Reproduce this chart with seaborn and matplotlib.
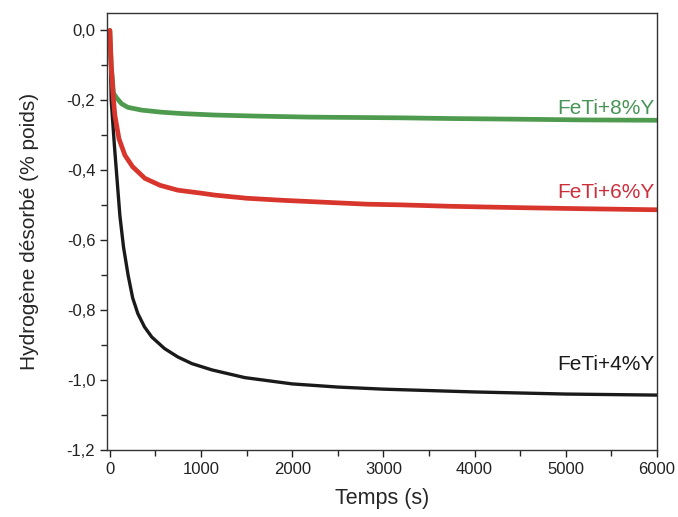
import numpy as np
import pandas as pd
import matplotlib
matplotlib.use("Agg")
import matplotlib.pyplot as plt
from matplotlib.ticker import MultipleLocator, FuncFormatter
import seaborn as sns

# Desorption curves
t_4 = [0, 15, 50, 80, 110, 150, 200, 250, 307, 380, 460, 600, 746, 900, 1120,
       1480, 2000, 2500, 3000, 3500, 4000, 5000, 6000]
y_4 = [0.0, -0.20, -0.33, -0.43, -0.53, -0.62, -0.70, -0.765, -0.81, -0.848, -0.877,
       -0.91, -0.934, -0.953, -0.971, -0.993, -1.011, -1.02, -1.026, -1.03, -1.034,
       -1.04, -1.043]

t_6 = [0, 15, 40, 55, 100, 165, 250, 384, 550, 746, 987, 1150, 1500, 1900, 2400,
       2820, 3200, 3730, 4500, 5200, 6000]
y_6 = [0.0, -0.10, -0.20, -0.243, -0.31, -0.357, -0.39, -0.423, -0.443, -0.457,
       -0.465, -0.471, -0.48, -0.486, -0.492, -0.497, -0.499, -0.503, -0.507,
       -0.51, -0.513]

t_8 = [0, 15, 40, 77, 130, 197, 350, 570, 800, 1150, 1600, 2200, 3180, 3730,
       4500, 5200, 6000]
y_8 = [0.0, -0.10, -0.18, -0.194, -0.21, -0.22, -0.228, -0.234, -0.238, -0.242,
       -0.245, -0.248, -0.25, -0.252, -0.254, -0.256, -0.257]

labels = ["FeTi+4%Y", "FeTi+6%Y", "FeTi+8%Y"]
label_y = [-0.955, -0.463, -0.222]

sns.set_style("ticks")
plt.rcParams["font.family"] = ["Liberation Sans", "DejaVu Sans"]

fig = plt.figure(figsize=(6.78, 5.17), dpi=100)
ax = fig.add_axes([0.158, 0.1296, 0.811, 0.8454])

sns.lineplot(x=t_4, y=y_4, color="#1a1a1a", linewidth=2.4, ax=ax, sort=False)
sns.lineplot(x=t_8, y=y_8, color="#4e9a4e", linewidth=3.4, ax=ax, sort=False)
sns.lineplot(x=t_6, y=y_6, color="#d8352c", linewidth=3.4, ax=ax, sort=False)

# curve labels
label_colors = ["#1a1a1a", "#cc2f3c", "#479457"]
for lab, ly, c in zip(labels, label_y, label_colors):
    ax.text(5975, ly, lab, color=c, fontsize=15, ha="right", va="center")

ax.set_xlim(-30, 6000)
ax.set_ylim(-1.2, 0.05)
ax.xaxis.set_major_locator(MultipleLocator(1000))
ax.xaxis.set_minor_locator(MultipleLocator(500))
ax.yaxis.set_major_locator(MultipleLocator(0.2))
ax.yaxis.set_minor_locator(MultipleLocator(0.1))
ax.yaxis.set_major_formatter(FuncFormatter(lambda v, p: f"{v:.1f}".replace(".", ",").replace("-0,0", "0,0")))
ax.tick_params(which="major", direction="out", length=5, width=1, labelsize=12, colors="#222222")
ax.tick_params(which="minor", direction="out", length=4, width=1)

for s in ax.spines.values():
    s.set_visible(True)
    s.set_color("#333333")
    s.set_linewidth(1.0)

ax.set_xlabel("Temps (s)", fontsize=15.5, labelpad=8)
ax.set_ylabel("Hydrogène désorbé (% poids)", fontsize=15, labelpad=20)

fig.savefig("out.png", dpi=100)
